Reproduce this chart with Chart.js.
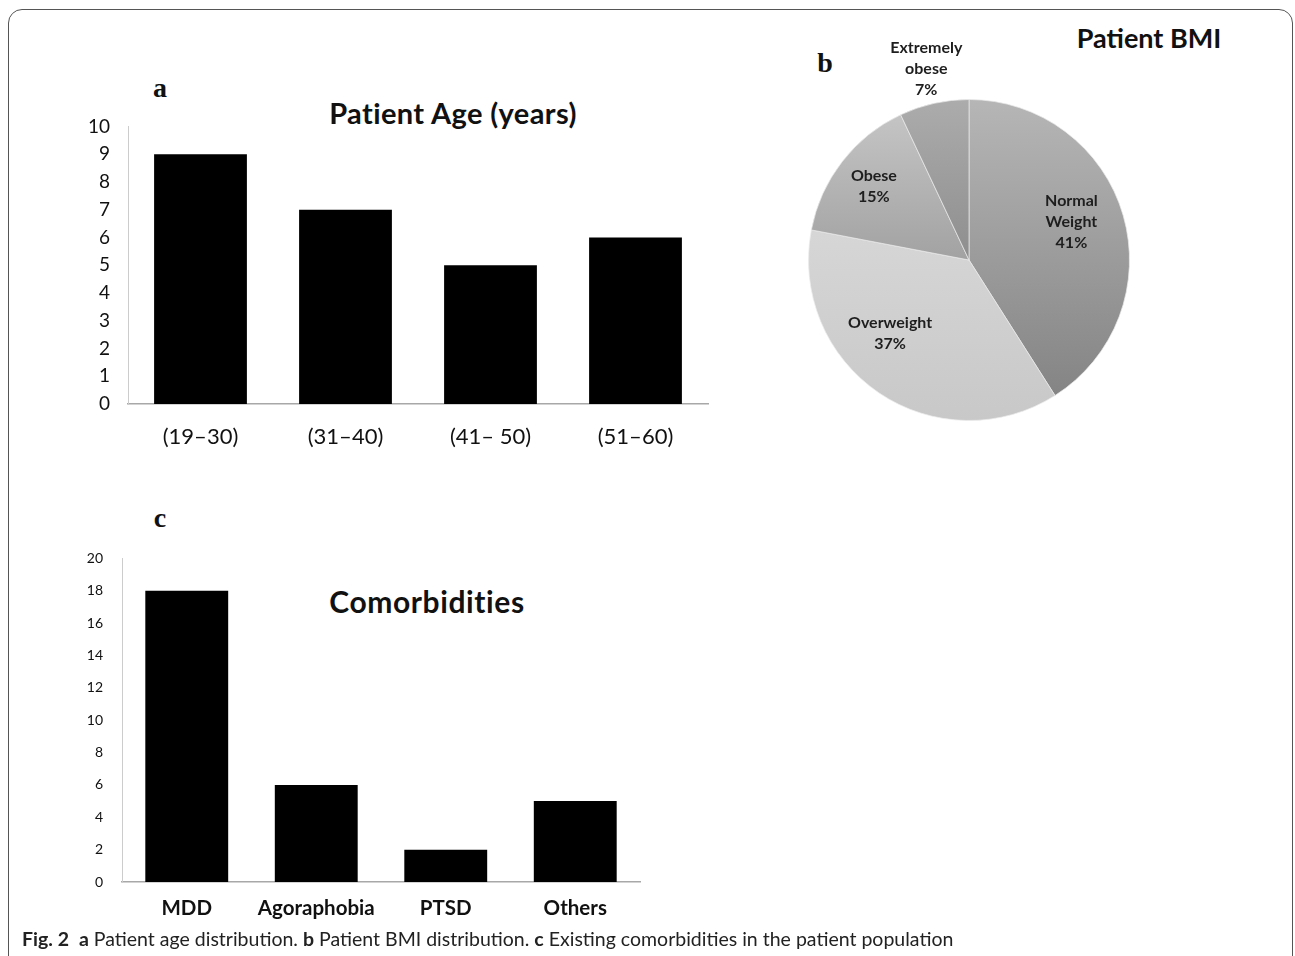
<!DOCTYPE html>
<html>
<head>
<meta charset="utf-8">
<script src="https://cdn.jsdelivr.net/npm/chart.js@4.4.1/dist/chart.umd.min.js"></script>
<style>
  body { margin: 0; background: #fff; width: 1295px; height: 956px; position: relative; overflow: hidden; font-family: Lato, sans-serif; color: #111; }
  .frame { position: absolute; left: 8px; top: 9px; width: 1283px; height: 990px; border: 1px solid #555; border-radius: 14px; }
  canvas { position: absolute; }
  .letter { position: absolute; font-family: "Liberation Serif", serif; font-weight: bold; font-size: 28px; transform: translate(-50%, -50%); }
  .title { position: absolute; font-weight: bold; white-space: nowrap; transform: translate(-50%, -50%); color: #111; }
  .caption { position: absolute; left: 22px; top: 927px; font-size: 19.5px; white-space: nowrap; color: #222; }
</style>
</head>
<body>
<div class="frame"></div>

<div class="letter" style="left:160px;top:88px">a</div>
<div class="title" style="left:453px;top:112px;font-size:29px;letter-spacing:0.4px">Patient Age (years)</div>
<canvas id="chart-age" width="660" height="357" style="left:60px;top:97px"></canvas>

<div class="letter" style="left:825px;top:63px">b</div>
<div class="title" style="left:1149px;top:37px;font-size:27px">Patient BMI</div>
<canvas id="chart-bmi" width="380" height="400" style="left:780px;top:30px"></canvas>

<div class="letter" style="left:160px;top:518px">c</div>
<div class="title" style="left:427px;top:601px;font-size:30px;letter-spacing:0.6px">Comorbidities</div>
<canvas id="chart-comorb" width="600" height="405" style="left:60px;top:531px"></canvas>

<div class="caption"><b>Fig. 2</b>&nbsp; <b>a</b> Patient age distribution. <b>b</b> Patient BMI distribution. <b>c</b> Existing comorbidities in the patient population</div>

<script>
// panel a
const ageLabels = ["(19–30)", "(31–40)", "(41– 50)", "(51–60)"];
const ageCounts = [9, 7, 5, 6];

// panel b
const bmiLabels = [["Normal", "Weight"], ["Overweight"], ["Obese"], ["Extremely", "obese"]];
const bmiShares = [41, 37, 15, 7];

// panel c
const comorbLabels = ["MDD", "Agoraphobia", "PTSD", "Others"];
const comorbCounts = [18, 6, 2, 5];

// slice shading (top -> bottom of pie) and label placement
const bmiTop = ["#b6b6b6", "#e0e0e0", "#c8c8c8", "#acacac"];
const bmiBottom = ["#808080", "#c8c8c8", "#7c7c7c", "#707070"];
const labelRadius = [0.68, 0.67, 0.75, 1.22];
const labelTurn = [-4, 13, 0, 0];

function barChart(el, labels, values, o) {
  return new Chart(el, {
    type: "bar",
    data: {
      labels: labels,
      datasets: [{
        data: values,
        backgroundColor: "#000",
        borderWidth: 0,
        barPercentage: 0.64,
        categoryPercentage: 1,
      }],
    },
    options: {
      responsive: false,
      animation: false,
      layout: { padding: { top: o.padTop, right: o.padRight, left: 0, bottom: 0 } },
      plugins: { legend: { display: false }, tooltip: { enabled: false } },
      scales: {
        x: {
          grid: { display: false, drawTicks: false },
          border: { color: "#a8a8a8", width: 1.5 },
          ticks: { color: "#111", font: o.xFont, padding: o.xPad },
          afterFit: s => { s.height = o.xH; },
        },
        y: {
          min: 0,
          max: o.max,
          grid: { display: false, drawTicks: false },
          border: { color: "#cccccc", width: 1 },
          ticks: { stepSize: o.step, color: "#111", font: o.yFont, padding: o.yPad },
          afterFit: s => { s.width = o.yW; },
        },
      },
    },
  });
}

barChart(document.getElementById("chart-age"), ageLabels, ageCounts, {
  padTop: 12, padRight: 12, yW: 68, xH: 50, max: 10, step: 1,
  xFont: { family: "Lato", size: 22 }, xPad: 20,
  yFont: { family: "Lato", size: 19 }, yPad: 18,
});

barChart(document.getElementById("chart-comorb"), comorbLabels, comorbCounts, {
  padTop: 12, padRight: 20, yW: 62, xH: 54, max: 20, step: 2,
  xFont: { family: "Lato", size: 20.5, weight: "bold" }, xPad: 14,
  yFont: { family: "Lato", size: 14 }, yPad: 19,
});

const sliceLabels = {
  id: "sliceLabels",
  afterDatasetsDraw(chart) {
    const ctx = chart.ctx;
    const meta = chart.getDatasetMeta(0);
    ctx.save();
    ctx.font = "bold 16px Lato";
    ctx.fillStyle = "#1e1e1e";
    ctx.textAlign = "center";
    ctx.textBaseline = "middle";
    meta.data.forEach((arc, i) => {
      const mid = (arc.startAngle + arc.endAngle) / 2 + labelTurn[i] * Math.PI / 180;
      const r = arc.outerRadius * labelRadius[i];
      const x = arc.x + Math.cos(mid) * r;
      const y = arc.y + Math.sin(mid) * r;
      const lines = bmiLabels[i].concat([bmiShares[i] + "%"]);
      lines.forEach((t, k) => ctx.fillText(t, x, y + (k - (lines.length - 1) / 2) * 21));
    });
    ctx.restore();
  },
};

new Chart(document.getElementById("chart-bmi"), {
  type: "pie",
  data: {
    labels: bmiLabels.map(l => l.join(" ")),
    datasets: [{
      data: bmiShares,
      borderWidth: 1,
      borderColor: "rgba(235,235,235,0.7)",
      backgroundColor: c => {
        const area = c.chart.chartArea;
        if (!area) return bmiTop[c.dataIndex];
        const g = c.chart.ctx.createLinearGradient(0, area.top, 0, area.bottom);
        g.addColorStop(0, bmiTop[c.dataIndex]);
        g.addColorStop(1, bmiBottom[c.dataIndex]);
        return g;
      },
    }],
  },
  options: {
    responsive: false,
    animation: false,
    layout: { padding: { left: 28, top: 69, right: 30, bottom: 9 } },
    plugins: { legend: { display: false }, tooltip: { enabled: false } },
  },
  plugins: [sliceLabels],
});
</script>
</body>
</html>
